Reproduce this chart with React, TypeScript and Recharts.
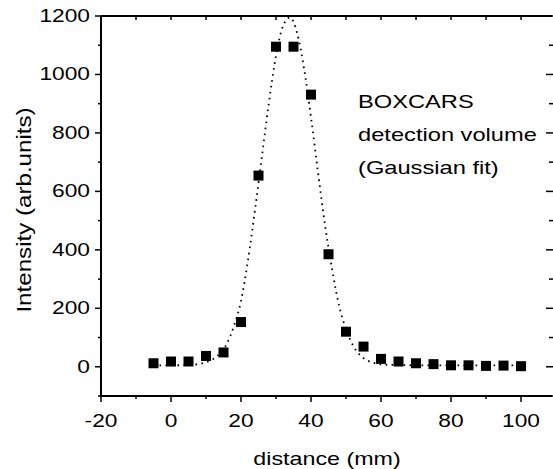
import { ComposedChart, Line, Scatter, XAxis, YAxis, Customized } from "recharts";

// measured points (distance in mm, intensity in arb. units)
const distance = [-5, 0, 5, 10, 15, 20, 25, 30, 35, 40, 45, 50, 55, 60, 65, 70, 75, 80, 85, 90, 95, 100];
const intensity = [12, 18, 18, 37, 49, 153, 654, 1095, 1095, 931, 385, 120, 69, 27, 18, 12, 9, 5, 5, 3, 4, 2];

// gaussian fit curve
const fitX = [-5, 0, 5, 10, 12, 14, 16, 18, 20, 22, 24, 26, 28, 30, 32, 34, 36, 38, 40, 42, 44, 46, 48, 50, 52, 54, 56, 58, 60, 65, 70, 80, 90, 100];
const fitY = [5, 5, 6, 15, 26, 46, 80, 140, 225, 365, 537, 722, 906, 1064, 1166, 1195, 1143, 1021, 853, 665, 485, 335, 210, 128, 73, 40, 22, 13, 8, 6, 5, 5, 5, 5];

// every 10 mm / 100 units gets a tick; labels only on the major ones
const xTicks = [-20, -10, 0, 10, 20, 30, 40, 50, 60, 70, 80, 90, 100];
const yTicks = [-100, 0, 100, 200, 300, 400, 500, 600, 700, 800, 900, 1000, 1100, 1200];
// the frame is cut off on the right just before its right edge
const xDomain = [-20, 108.85];
const yDomain = [-100, 1200];

const points = distance.map((d, i) => ({ d, v: intensity[i] }));
const fit = fitX.map((d, i) => ({ d, v: fitY[i] }));

const FONT = "'Liberation Sans', Arial, Helvetica, sans-serif";

function BottomTick({ x, y, payload }: any) {
  const major = payload.value % 20 === 0;
  return (
    <g>
      <line x1={x} x2={x} y1={y} y2={y + (major ? 6 : 3)} stroke="#000" strokeWidth={1.5} />
      {major && (
        <text transform={`translate(${x},${y + 31}) scale(1.3,1)`} textAnchor="middle" fontSize={17.5} fontFamily={FONT} fill="#000">
          {payload.value}
        </text>
      )}
    </g>
  );
}

function TopTick({ x, y }: any) {
  return <line x1={x} x2={x} y1={y} y2={y + 4} stroke="#000" strokeWidth={1.5} />;
}

function LeftTick({ x, y, payload }: any) {
  const major = payload.value % 200 === 0;
  return (
    <g>
      <line x1={x - (major ? 6 : 3)} x2={x} y1={y} y2={y} stroke="#000" strokeWidth={1.5} />
      {major && (
        <text transform={`translate(${x - 11},${y + 6}) scale(1.3,1)`} textAnchor="end" fontSize={17.5} fontFamily={FONT} fill="#000">
          {payload.value}
        </text>
      )}
    </g>
  );
}

function RightTick({ x, y, payload }: any) {
  const major = payload.value % 200 === 0;
  return <line x1={x - (major ? 6 : 3)} x2={x + 2} y1={y} y2={y} stroke="#000" strokeWidth={1.5} />;
}

function SquareDot({ cx, cy }: any) {
  return <rect x={cx - 5} y={cy - 5} width={10} height={10} fill="#000" />;
}

function Texts() {
  return (
    <g fontFamily={FONT} fill="#000">
      <text transform="translate(327,465) scale(1.33,1)" textAnchor="middle" fontSize={17.5}>
        distance (mm)
      </text>
      <text transform="translate(31,210) rotate(-90) scale(1.15,1)" textAnchor="middle" fontSize={21}>
        Intensity (arb.units)
      </text>
      <g fontSize={18.5}>
        <text transform="translate(358,108) scale(1.28,1)">BOXCARS</text>
        <text transform="translate(358,141) scale(1.28,1)">detection volume</text>
        <text transform="translate(358,174) scale(1.28,1)">(Gaussian fit)</text>
      </g>
    </g>
  );
}

const axisLine = { stroke: "#000", strokeWidth: 2 };

export default function App() {
  return (
    <div style={{ position: "fixed", left: 0, top: 0, width: 553, height: 469, overflow: "hidden", background: "#fff" }}>
      <ComposedChart width={553} height={469} margin={{ top: 15, right: 0, bottom: 72, left: 100 }}>
        <XAxis xAxisId="x" dataKey="d" type="number" domain={xDomain} ticks={xTicks} interval={0} height={1}
          tickSize={0} tickMargin={0} axisLine={axisLine} tickLine={false} tick={<BottomTick />} allowDataOverflow />
        <XAxis xAxisId="top" orientation="top" dataKey="d" type="number" domain={xDomain} ticks={xTicks} interval={0} height={1}
          tickSize={0} tickMargin={0} axisLine={axisLine} tickLine={false} tick={<TopTick />} allowDataOverflow />
        <YAxis yAxisId="y" type="number" domain={yDomain} ticks={yTicks} interval={0} width={1}
          tickSize={0} tickMargin={0} axisLine={axisLine} tickLine={false} tick={<LeftTick />} allowDataOverflow />
        <YAxis yAxisId="r" orientation="right" type="number" domain={yDomain} ticks={yTicks} interval={0} width={1}
          tickSize={0} tickMargin={0} axisLine={false} tickLine={false} tick={<RightTick />} allowDataOverflow />
        <Line xAxisId="x" yAxisId="y" data={fit} dataKey="v" type="monotone" stroke="#000" strokeWidth={1.8}
          strokeDasharray="1.6 4.4" dot={false} activeDot={false} isAnimationActive={false} />
        <Scatter xAxisId="x" yAxisId="y" data={points} dataKey="v" shape={<SquareDot />} isAnimationActive={false} />
        <Customized component={Texts} />
      </ComposedChart>
    </div>
  );
}
